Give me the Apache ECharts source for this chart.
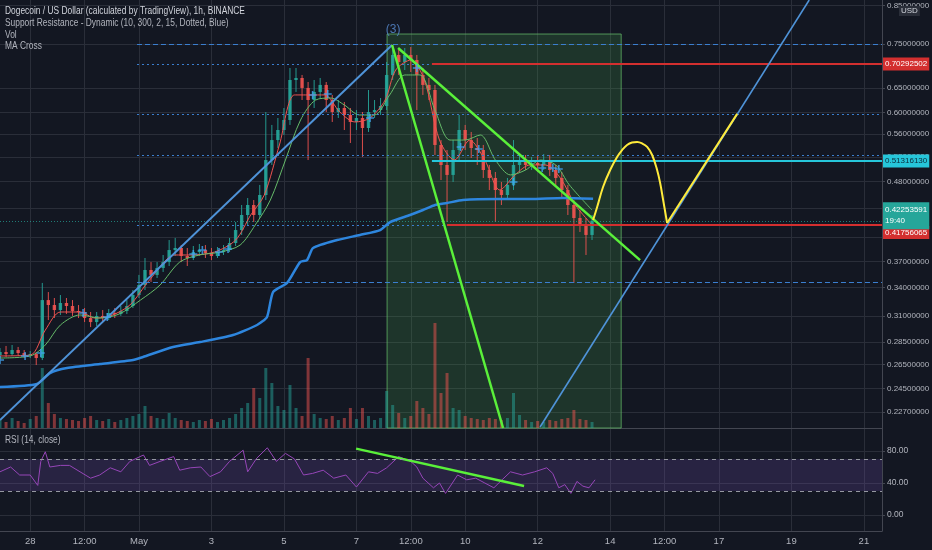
<!DOCTYPE html>
<html><head><meta charset="utf-8">
<script src="https://cdn.jsdelivr.net/npm/echarts@6/dist/echarts.min.js"></script>
<style>html,body{margin:0;padding:0;background:#131722;}#c{width:932px;height:550px;}</style>
</head><body><div id="c"></div>
<script>
const FONT = "'Liberation Sans',Arial,sans-serif";

// ---------- axes ----------
const X_MIN = -20, X_MAX = 564;               // hours from Apr 28 00:00
const xLabelHours = [0, 36, 72, 120, 168, 216, 252, 288, 336, 384, 420, 456, 504, 552];
const xLabelTexts = ['28', '12:00', 'May', '3', '5', '7', '12:00', '10', '12', '14', '12:00', '17', '19', '21'];
const priceTop = 0.8652, priceBottom = 0.2156;
const priceLabelTicks = [0.85, 0.75, 0.65, 0.60, 0.56, 0.52, 0.48, 0.44, 0.37, 0.34, 0.31, 0.285, 0.265, 0.245, 0.227];
const priceGridTicks = [0.85, 0.75, 0.65, 0.60, 0.56, 0.52, 0.48, 0.44, 0.40, 0.37, 0.34, 0.31, 0.285, 0.265, 0.245, 0.227];
const rsiTicks = [0, 40, 80];
const rsiBand = [70, 30];

// ---------- texts ----------
const legendLines = ['Dogecoin / US Dollar (calculated by TradingView), 1h, BINANCE',
  'Support Resistance - Dynamic (10, 300, 2, 15, Dotted, Blue)', 'Vol', 'MA Cross'];
const rsiTitle = 'RSI (14, close)';
const waveLabel = '(3)';
const currencyLabel = 'USD';

// ---------- 4h candles ----------
const candleStartHour = -20, candleStepHours = 4;
const candleOpen = [.2732,.2759,.2741,.2777,.2750,.2732,.2741,.2706,.3266,.3214,
.3162,.3235,.3204,.3152,.3142,.3081,.3041,.3102,.3081,.3132,
.3122,.3152,.3204,.3320,.3430,.3601,.3544,.3625,.3695,.3842,
.3868,.3768,.3744,.3817,.3842,.3805,.3768,.3817,.3842,.3931,
.4100,.4305,.4447,.4305,.4594,.5146,.5491,.5673,.5860,.6673,
.6717,.6503,.6253,.6419,.6567,.6253,.6014,.6093,.5957,.5823,
.5899,.5710,.6014,.6053,.6133,.6783,.7238,.7075,.7238,.7120,
.6783,.6567,.6460,.5404,.5064,.4903,.5316,.5673,.5491,.5351,
.5316,.4982,.4855,.4669,.4594,.4746,.5064,.5113,.5064,.5097,
.5064,.5113,.4982,.4855,.4669,.4447,.4263,.4168,.4035];
const candleClose = [.2759,.2741,.2777,.2750,.2732,.2741,.2706,.3266,.3214,.3162,
.3235,.3204,.3152,.3142,.3081,.3041,.3102,.3081,.3132,.3122,
.3152,.3204,.3320,.3430,.3601,.3544,.3625,.3695,.3842,.3868,
.3768,.3744,.3817,.3842,.3805,.3768,.3817,.3842,.3931,.4100,
.4305,.4447,.4305,.4594,.5146,.5491,.5673,.5860,.6673,.6717,
.6503,.6253,.6419,.6567,.6253,.6014,.6093,.5957,.5823,.5899,
.5710,.6014,.6053,.6133,.6783,.7238,.7075,.7238,.7120,.6783,
.6567,.6460,.5404,.5064,.4903,.5316,.5673,.5491,.5351,.5316,
.4982,.4855,.4669,.4594,.4746,.5064,.5113,.5064,.5097,.5064,
.5113,.4982,.4855,.4669,.4447,.4263,.4168,.4035,.4225];
const candleHigh = [.2795,.2814,.2823,.2805,.2777,.2768,.2759,.3453,.3352,.3288,
.3320,.3288,.3266,.3214,.3183,.3142,.3142,.3162,.3172,.3183,
.3204,.3266,.3374,.3544,.3744,.3695,.3695,.3781,.3969,.3996,
.3905,.3868,.3893,.3918,.3905,.3868,.3880,.3905,.3996,.4208,
.4447,.4549,.4519,.4746,.6014,.5767,.5899,.6093,.6938,.6938,
.6783,.6630,.6673,.6717,.6630,.6357,.6253,.6213,.6093,.6053,
.6014,.6460,.6253,.6294,.7075,.7476,.7355,.7403,.7427,.7238,
.6938,.6717,.6567,.5491,.5316,.5491,.5957,.5767,.5637,.5528,
.5404,.5064,.4950,.4792,.4855,.5491,.5231,.5231,.5197,.5231,
.5248,.5231,.5064,.4950,.4746,.4519,.4375,.4263,.4305];
const candleLow = [.2706,.2715,.2724,.2724,.2706,.2706,.2645,.2688,.3061,.3081,
.3112,.3122,.3102,.3081,.3041,.2992,.3002,.3041,.3061,.3081,
.3102,.3122,.3183,.3288,.3374,.3464,.3509,.3578,.3648,.3768,
.3695,.3648,.3719,.3768,.3744,.3719,.3744,.3781,.3817,.3893,
.4035,.4168,.4208,.4263,.4519,.5064,.5351,.5582,.5767,.6419,
.6253,.5146,.6093,.6294,.6014,.5823,.5899,.5673,.5439,.5673,
.5197,.5637,.5899,.5957,.6053,.6673,.6783,.6893,.6849,.6053,
.6357,.6253,.5231,.4823,.4208,.4792,.5146,.5316,.5180,.5064,
.4855,.4669,.4208,.4447,.4549,.4669,.4950,.4982,.4982,.4950,
.4982,.4887,.4746,.4549,.4305,.3453,.4074,.3781,.3969];
const volume = [8,6,10,7,5,9,12,60,25,14,
10,9,8,7,10,12,8,7,9,6,
8,10,12,14,22,12,10,9,15,10,
8,7,6,8,7,9,6,8,10,14,
20,25,40,30,60,45,22,18,43,20,
12,70,14,10,9,12,8,10,20,9,
20,12,8,10,37,23,15,10,12,27,
20,14,105,35,55,20,18,12,10,9,
8,10,9,8,10,35,13,8,6,7,
6,8,7,9,10,18,9,8,6];

// ---------- moving averages ----------
const maFastHours = [-20,0,10,20,33,43,53,66,79,96,106,122,136,146,155,165,175,185,195,205,215,225,235,242,252,261,271,281,291,301,311,321,331,341,351,361,372];
const maFastPrice = [.2724,.2732,.2963,.3142,.3142,.3081,.3102,.3214,.3486,.3781,.3781,.3817,.3969,.4305,.4594,.5404,.6357,.6357,.6357,.6014,.5823,.5899,.6253,.6893,.7120,.6673,.5491,.5146,.5491,.5146,.4669,.4903,.5064,.5064,.4855,.4447,.4168];
const maSlowHours = [-20,0,10,20,33,46,59,73,86,99,112,126,139,149,159,169,179,189,199,208,218,228,238,248,258,268,278,288,298,308,318,328,338,348,357,372];
const maSlowPrice = [.2706,.2724,.2823,.3012,.3112,.3081,.3122,.3266,.3430,.3695,.3781,.3817,.3905,.4168,.4519,.5146,.5860,.6253,.6294,.6153,.5957,.5957,.6357,.6783,.6783,.6053,.5491,.5491,.5582,.5146,.4903,.4982,.5146,.5064,.4746,.4375];
const maLongHours = [-20,4.5,13.1,24.4,46.2,68.1,74.7,94.6,112.5,134.3,150.2,156.8,160.8,170.1,178.7,183.3,187.3,203.2,218.4,231.7,238.3,251.5,260.1,268.1,276,286.6,309.1,331,352.8,372.7];
const maLongPrice = [.2463,.2487,.2577,.2619,.2653,.2688,.2715,.2805,.2850,.2916,.3012,.3092,.3352,.3453,.3695,.3719,.3868,.3969,.4035,.4100,.4208,.4305,.4375,.4447,.4476,.4519,.4534,.4534,.4549,.4538];
const crossHours = [-20,-3.4,7,35,51,108,114,125,131,187,197,225,256,285,297,320,339,346,350];
const crossPrice = [.2688,.2724,.2750,.3132,.3092,.3793,.3842,.3817,.3855,.6357,.6378,.5899,.6938,.5369,.5334,.4792,.5015,.5015,.4998];

// ---------- drawings ----------
const trendBlue1 = [[-20, .2212], [239.6, .7476]];
const trendBlue2 = [[337.6, .2163], [515.8, .8652]];
const trendGreenA = [[239.6, .7476], [313.1, .2156]];
const trendGreenB = [[243.6, .7403], [403.8, .3719]];
const yellowArcHours = [372.7,375.4,379.3,384,388.6,391.9,395.2,398.5,401.9,405.2,408.5,411.8,415.1,417.1,419.1,421.7];
const yellowArcPrice = [.4235,.4418,.4715,.4982,.5197,.5316,.5404,.5447,.5456,.5430,.5369,.5231,.4982,.4776,.4519,.4195];
const yellowLeg = [[421.7, .4195], [468.1, .5978]];
const boxRange = [[236.3, .7747], [391.3, .2156]];
const wavePoint = [240.3, .7849];
const srStartHour = 70.7;
const srDashedPrices = [0.75, 0.3463];
const srDottedPrices = [0.7029, 0.5975, 0.523, 0.4167];
const levelPrices = [0.70292502, 0.5131613, 0.41756065];
const levelLabels = ['0.70292502', '0.51316130', '0.41756065'];
const levelStartHours = [266, 266, 276];
const lastPrice = 0.42253591, lastPriceLabel = '0.42253591\n19:40';
const maLongLast = 0.45378437, maLongLabel = '0.45378437';

// ---------- RSI ----------
const rsiHours = [-20,-13,-7,0,5,7,10,13,20,26,33,40,46,53,60,66,75,79,86,95,99,106,113,119,126,132,141,144,150,157,163,169,175,181,187,194,201,209,216,224,230,236,244,252,256,260,267,271,275,283,289,295,301,307,313,318,326,334,342,346,350,354,358,362,366,370,374];
const rsiValues = [54,60,50,50,37,67,79,60,62,62,54,46,50,59,54,67,75,62,67,73,56,59,60,48,54,67,81,54,71,84,67,77,70,50,52,56,46,50,35,54,52,59,73,67,60,46,34,40,27,50,44,46,40,34,45,54,50,54,59,52,34,38,27,42,36,34,44];
const rsiTrend = [[215.8, 83], [327, 36.25]];

// ---------- build ----------
const L = p => Math.log(p);
const UP = '#26a69a', DOWN = '#ef5350';
const candleHours = candleOpen.map((_, i) => candleStartHour + i * candleStepHours);
const candleData = candleHours.map((h, i) => [h, L(candleOpen[i]), L(candleClose[i]), L(candleLow[i]), L(candleHigh[i])]);
const volumeData = candleHours.map((h, i) => ({
  value: [h, volume[i]],
  itemStyle: { color: candleClose[i] >= candleOpen[i] ? 'rgba(38,166,154,0.5)' : 'rgba(239,83,80,0.5)' }
}));
const pairs = (hs, ps) => hs.map((h, i) => [h, L(ps[i])]);
const seg = s => s.map(p => [p[0], L(p[1])]);

const markLines = [];
srDashedPrices.forEach(p => markLines.push([{ coord: [srStartHour, L(p)], lineStyle: { color: '#3b7fd0', type: [5, 3], width: 1 } }, { coord: [X_MAX, L(p)] }]));
srDottedPrices.forEach(p => markLines.push([{ coord: [srStartHour, L(p)], lineStyle: { color: '#3b7fd0', type: [2, 3], width: 1.2 } }, { coord: [X_MAX, L(p)] }]));
const labelBase = { show: true, position: 'end', distance: 1, fontSize: 8, fontFamily: FONT, padding: [3, 2, 2, 2], color: '#ffffff' };
const levelColors = ['#d32f2f', '#26c6da', '#d32f2f'];
levelPrices.forEach((p, i) => markLines.push([{
  coord: [levelStartHours[i], L(p)], lineStyle: { color: levelColors[i], type: 'solid', width: 2 },
  label: Object.assign({}, labelBase, { formatter: levelLabels[i], backgroundColor: levelColors[i], color: i === 1 ? '#0b2b3a' : '#ffffff', offset: i === 2 ? [0, 8] : [0, 0] })
}, { coord: [X_MAX, L(p)] }]));
markLines.push([{ coord: [X_MIN, L(lastPrice)], lineStyle: { color: 'rgba(38,166,154,0.7)', type: [1, 2], width: 1 },
  label: Object.assign({}, labelBase, { formatter: lastPriceLabel, backgroundColor: '#26a69a', lineHeight: 11, offset: [0, -5] }) }, { coord: [X_MAX, L(lastPrice)] }]);
markLines.push([{ coord: [X_MAX - 1, L(maLongLast)], lineStyle: { opacity: 0 },
  label: Object.assign({}, labelBase, { formatter: maLongLabel, backgroundColor: '#2196f3' }) }, { coord: [X_MAX, L(maLongLast)] }]);

const gridLine = { show: true, lineStyle: { color: '#2a2e39', width: 1 } };
const axisCol = '#434651';
const plus = 'path://M4,0H6V4H10V6H6V10H4V6H0V4H4Z';
const legendY = [6, 18, 29.5, 41];

const option = {
  backgroundColor: '#131722',
  animation: false,
  textStyle: { fontFamily: FONT },
  grid: [
    { left: 0, right: 50, top: 0, height: 428, outerBoundsMode: 'none', containLabel: false },
    { left: 0, right: 50, top: 228, height: 200, outerBoundsMode: 'none', containLabel: false },
    { left: 0, right: 50, top: 428, height: 103, outerBoundsMode: 'none', containLabel: false }
  ],
  xAxis: [
    { gridIndex: 0, type: 'value', min: X_MIN, max: X_MAX, axisLine: { show: true, onZero: false, lineStyle: { color: axisCol } },
      axisTick: { show: false, customValues: xLabelHours }, axisLabel: { show: false, customValues: xLabelHours }, splitLine: gridLine },
    { gridIndex: 1, type: 'value', min: X_MIN, max: X_MAX, show: false },
    { gridIndex: 2, type: 'value', min: X_MIN, max: X_MAX, axisLine: { show: true, onZero: false, lineStyle: { color: axisCol } },
      axisTick: { show: false, customValues: xLabelHours },
      axisLabel: { show: true, customValues: xLabelHours, color: '#b2b5be', fontSize: 9.5, margin: 5,
        formatter: v => { const k = xLabelHours.indexOf(Math.round(v)); return k >= 0 ? xLabelTexts[k] : ''; } },
      splitLine: gridLine }
  ],
  yAxis: [
    { gridIndex: 0, type: 'value', position: 'right', min: L(priceBottom), max: L(priceTop),
      axisLine: { show: true, onZero: false, lineStyle: { color: axisCol } },
      axisTick: { show: true, length: 3, customValues: priceGridTicks.map(L), lineStyle: { color: axisCol } },
      axisLabel: { customValues: priceLabelTicks.map(L), formatter: v => Math.exp(v).toFixed(8), color: '#b2b5be', fontSize: 8, margin: 5 },
      splitLine: gridLine },
    { gridIndex: 1, type: 'value', min: 0, max: 200, show: false },
    { gridIndex: 2, type: 'value', position: 'right', min: -20, max: 108.75,
      axisLine: { show: true, onZero: false, lineStyle: { color: axisCol } },
      axisTick: { show: true, length: 3, customValues: rsiTicks, lineStyle: { color: axisCol } },
      axisLabel: { customValues: rsiTicks, formatter: v => v.toFixed(2), color: '#b2b5be', fontSize: 8.5, margin: 5 },
      splitLine: gridLine }
  ],
  graphic: [
    ...legendLines.map((t, i) => ({ type: 'text', x: 5, y: legendY[i], scaleX: 0.8, z: 100,
      style: { text: t, fill: i === 0 ? '#d1d4dc' : '#b2b5be', font: '10.5px ' + FONT } })),
    { type: 'text', x: 5, y: 435, scaleX: 0.8, z: 100, style: { text: rsiTitle, fill: '#b2b5be', font: '10.5px ' + FONT } },
    { type: 'text', x: 899, y: 6, z: 100, style: { text: currencyLabel, fill: '#d1d4dc', font: '8px ' + FONT, backgroundColor: '#2a2e39', padding: [1, 2] } }
  ],
  series: [
    { type: 'bar', name: 'Vol', xAxisIndex: 1, yAxisIndex: 1, data: volumeData, barWidth: 3, z: 1 },
    { type: 'line', name: 'drawings', xAxisIndex: 0, yAxisIndex: 0, data: [[X_MIN, L(0.5)]], symbol: 'none', lineStyle: { opacity: 0 }, clip: false, z: 2,
      markArea: { silent: true, itemStyle: { color: 'rgba(76,175,80,0.2)', borderColor: 'rgba(102,187,106,0.75)', borderWidth: 1 },
        data: [[{ coord: [boxRange[0][0], L(boxRange[0][1])] }, { coord: [boxRange[1][0], L(boxRange[1][1])] }]] },
      markLine: { silent: true, symbol: ['none', 'none'], label: { show: false }, data: markLines } },
    { type: 'custom', name: 'candles', xAxisIndex: 0, yAxisIndex: 0, clip: true, z: 3,
      encode: { x: 0, y: [1, 2, 3, 4] }, data: candleData,
      renderItem: (params, api) => {
        const x = api.value(0);
        const o = api.coord([x, api.value(1)]), c = api.coord([x, api.value(2)]);
        const lo = api.coord([x, api.value(3)]), hi = api.coord([x, api.value(4)]);
        const col = api.value(2) >= api.value(1) ? UP : DOWN;
        const w = 3.4;
        return { type: 'group', children: [
          { type: 'line', shape: { x1: o[0], y1: hi[1], x2: o[0], y2: lo[1] }, style: { stroke: col, lineWidth: 1, opacity: 0.9 } },
          { type: 'rect', shape: { x: o[0] - w / 2, y: Math.min(o[1], c[1]), width: w, height: Math.max(1, Math.abs(o[1] - c[1])) }, style: { fill: col, opacity: 0.9 } }
        ] };
      } },
    { type: 'line', name: 'MA fast', data: pairs(maFastHours, maFastPrice), smooth: 0.3, symbol: 'none', lineStyle: { color: '#ef5350', width: 1 }, z: 4 },
    { type: 'line', name: 'MA slow', data: pairs(maSlowHours, maSlowPrice), smooth: 0.3, symbol: 'none', lineStyle: { color: '#66bb6a', width: 1 }, z: 4 },
    { type: 'line', name: 'MA long', data: pairs(maLongHours, maLongPrice), smooth: 0.2, symbol: 'none', lineStyle: { color: '#2e86de', width: 2.5 }, z: 5 },
    { type: 'line', name: 'trend1', data: seg(trendBlue1), symbol: 'none', lineStyle: { color: '#4f93d8', width: 2 }, z: 6 },
    { type: 'line', name: 'trend2', data: seg(trendBlue2), symbol: 'none', lineStyle: { color: '#4f93d8', width: 1.6 }, z: 6 },
    { type: 'line', name: 'greenA', data: seg(trendGreenA), symbol: 'none', lineStyle: { color: '#5af03a', width: 2.5 }, z: 7 },
    { type: 'line', name: 'greenB', data: seg(trendGreenB), symbol: 'none', lineStyle: { color: '#5af03a', width: 2.5 }, z: 7 },
    { type: 'line', name: 'yellowArc', data: pairs(yellowArcHours, yellowArcPrice), smooth: 0.4, symbol: 'none', lineStyle: { color: '#ffeb3b', width: 2 }, z: 7 },
    { type: 'line', name: 'yellowLeg', data: seg(yellowLeg), symbol: 'none', lineStyle: { color: '#ffeb3b', width: 2 }, z: 7 },
    { type: 'scatter', name: 'MA cross', data: pairs(crossHours, crossPrice), symbol: plus, symbolSize: 8, itemStyle: { color: '#42a5f5' }, z: 8 },
    { type: 'scatter', name: 'wave', data: [[wavePoint[0], L(wavePoint[1])]], symbolSize: 2, itemStyle: { color: 'rgba(0,0,0,0)' }, clip: false,
      label: { show: true, position: 'inside', formatter: waveLabel, color: '#5a8fd6', fontSize: 12, fontFamily: FONT }, z: 8 },
    { type: 'line', name: 'RSI', xAxisIndex: 2, yAxisIndex: 2, data: rsiHours.map((h, i) => [h, rsiValues[i]]), symbol: 'none',
      lineStyle: { color: '#9646b8', width: 1 }, z: 3,
      markArea: { silent: true, itemStyle: { color: 'rgba(126,87,194,0.2)' }, data: [[{ yAxis: rsiBand[0] }, { yAxis: rsiBand[1] }]] },
      markLine: { silent: true, symbol: ['none', 'none'], label: { show: false }, lineStyle: { color: '#9598a1', type: [4, 4], width: 1 },
        data: [{ yAxis: rsiBand[0] }, { yAxis: rsiBand[1] }] } },
    { type: 'line', name: 'RSI trend', xAxisIndex: 2, yAxisIndex: 2, data: rsiTrend, symbol: 'none', lineStyle: { color: '#5af03a', width: 2.5 }, z: 4 }
  ]
};
echarts.init(document.getElementById('c')).setOption(option);
</script></body></html>
